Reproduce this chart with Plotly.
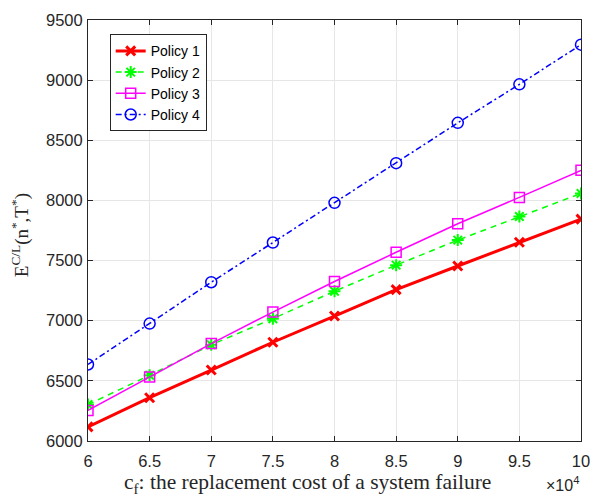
import plotly.graph_objects as go

cf = [6, 6.5, 7, 7.5, 8, 8.5, 9, 9.5, 10]  # x 10^4
policy1 = [6117, 6360, 6590, 6821, 7039, 7258, 7455, 7652, 7845]
policy2 = [6303, 6546, 6800, 7017, 7245, 7462, 7670, 7866, 8058]
policy3 = [6254, 6532, 6810, 7072, 7326, 7569, 7806, 8025, 8250]
policy4 = [6636, 6976, 7320, 7650, 7980, 8310, 8645, 8965, 9295]

fig = go.Figure()
fig.add_trace(go.Scatter(x=cf, y=policy1, name="Policy 1", mode="lines+markers",
                         line=dict(color="#ff0000", width=3),
                         marker=dict(symbol="x-thin-open", size=9, color="#ff0000",
                                     line=dict(color="#ff0000", width=3))))
fig.add_trace(go.Scatter(x=cf, y=policy2, name="Policy 2", mode="lines+markers",
                         line=dict(color="#00ff00", width=1.5, dash="6px,5px"),
                         marker=dict(symbol="asterisk-open", size=10, color="#00ff00",
                                     line=dict(color="#00ff00", width=2))))
fig.add_trace(go.Scatter(x=cf, y=policy3, name="Policy 3", mode="lines+markers",
                         line=dict(color="#ff00ff", width=1.5),
                         marker=dict(symbol="square-open", size=10, color="#ff00ff",
                                     line=dict(color="#ff00ff", width=1.5))))
fig.add_trace(go.Scatter(x=cf, y=policy4, name="Policy 4", mode="lines+markers",
                         line=dict(color="#0000ff", width=1.5, dash="6px,3px,2px,3px"),
                         marker=dict(symbol="circle-open", size=11, color="#0000ff",
                                     line=dict(color="#0000ff", width=1.5))))

axis_common = dict(showline=True, mirror="allticks", linecolor="#262626", linewidth=1,
                   ticks="inside", ticklen=5, tickcolor="#262626",
                   showgrid=True, gridcolor="#e6e6e6", gridwidth=1, zeroline=False,
                   tickfont=dict(family="Liberation Sans, Arial", size=16.5, color="#262626"))

fig.update_xaxes(range=[6, 10], tickvals=cf, ticktext=["6", "6.5", "7", "7.5", "8", "8.5", "9", "9.5", "10"],
                 ticklabelstandoff=5, **axis_common)
fig.update_yaxes(range=[6000, 9500], tickvals=[6000, 6500, 7000, 7500, 8000, 8500, 9000, 9500],
                 ticklabelstandoff=1, **axis_common)

fig.add_annotation(text="c<sub>f</sub>: the replacement cost of a system failure",
                   xref="paper", yref="paper", x=0.446, y=-0.064, yanchor="top", showarrow=False,
                   font=dict(family="Liberation Serif, Times New Roman", size=21.5, color="#262626"))
fig.add_annotation(text="\u00d710<sup>4</sup>", xref="paper", yref="paper", x=1.0, y=-0.13,
                   xanchor="right", yanchor="bottom", showarrow=False,
                   font=dict(family="Liberation Sans, Arial", size=16, color="#262626"))
fig.add_annotation(text="E<sup>C/L</sup>(n<sup>*</sup>,T<sup>*</sup>)", textangle=-90,
                   xref="paper", yref="paper", x=-0.137, y=0.49, xanchor="center", yanchor="middle",
                   showarrow=False,
                   font=dict(family="Liberation Serif, Times New Roman", size=19, color="#262626"))

fig.update_layout(width=601, height=496, margin=dict(l=88, r=11, t=16, b=55),
                  paper_bgcolor="white", plot_bgcolor="white", showlegend=True,
                  legend=dict(x=0.044, y=0.966, xanchor="left", yanchor="top",
                              bgcolor="white", bordercolor="#262626", borderwidth=1,
                              font=dict(family="Liberation Sans, Arial", size=14, color="#000000"),
                              tracegroupgap=0, itemwidth=30))

fig.write_html("out.html")
